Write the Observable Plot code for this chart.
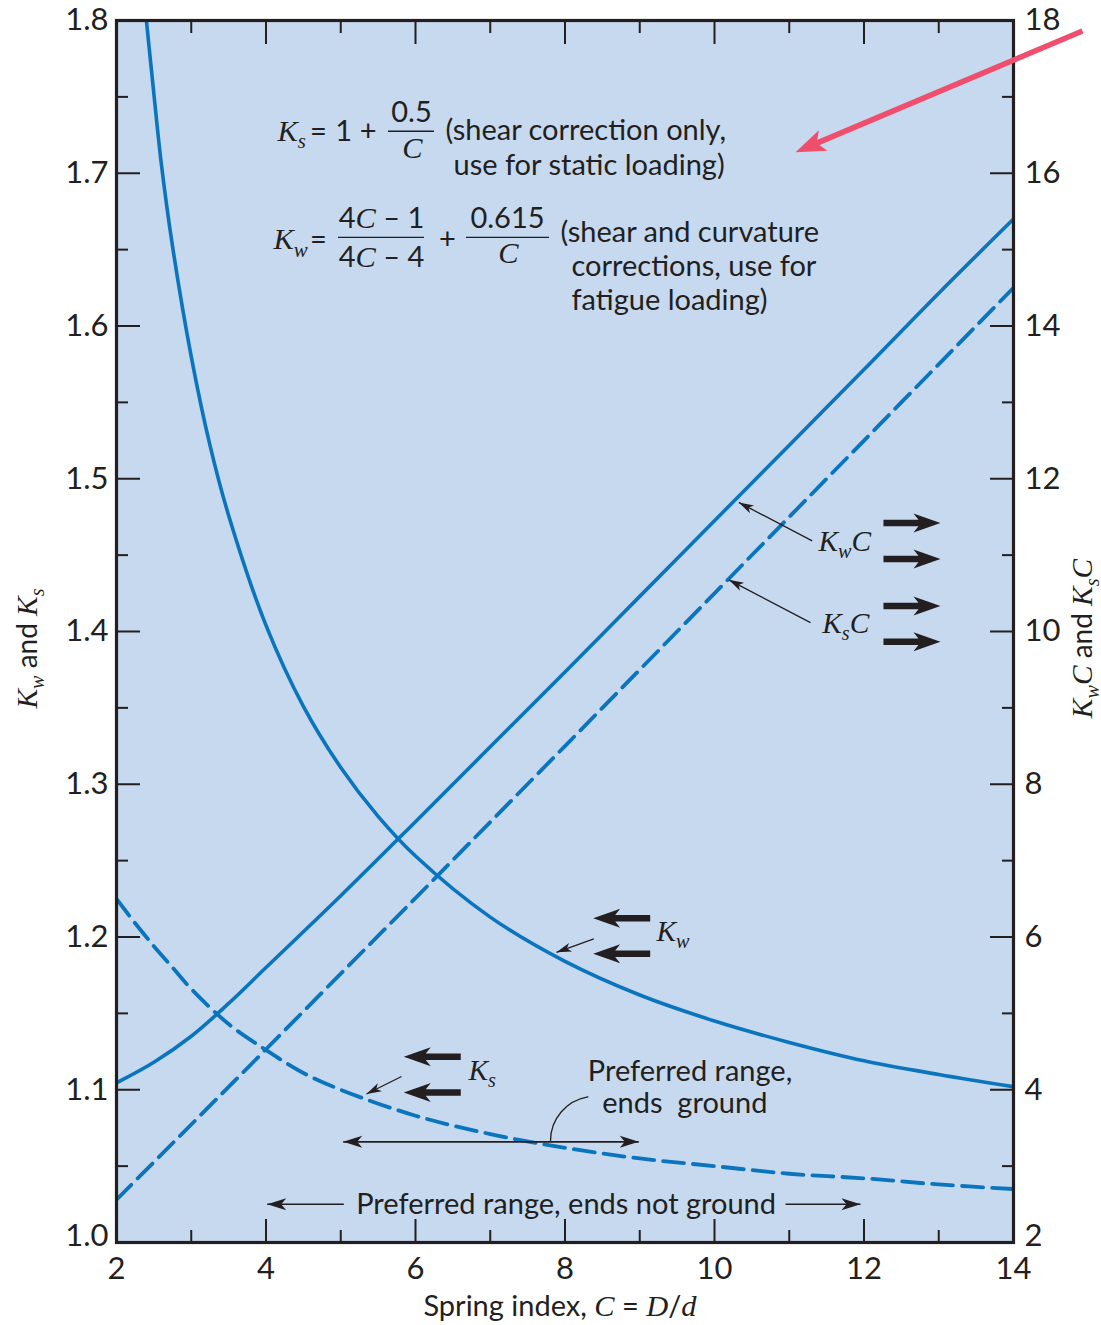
<!DOCTYPE html>
<html>
<head>
<meta charset="utf-8">
<script src="https://cdn.jsdelivr.net/npm/d3@7"></script>
<script src="https://cdn.jsdelivr.net/npm/@observablehq/plot@0.6"></script>
<style>
  html, body { margin: 0; padding: 0; background: #ffffff; }
  svg { display: block; }
</style>
</head>
<body>
<script>
// ---------------- data ----------------
// Kw (left axis) versus spring index C
const kwIndex  = [2.40, 2.5, 2.6, 2.75, 3, 3.25, 3.5, 4, 4.5, 5, 5.5, 6, 7, 8, 9, 10, 11, 12, 13, 14];
const kwValues = [1.800, 1.752, 1.706, 1.652, 1.580, 1.522, 1.476, 1.404, 1.351, 1.311, 1.279, 1.253, 1.213, 1.184, 1.162, 1.145, 1.131, 1.119, 1.110, 1.102];
// Ks (left axis)
const ksIndex  = [2, 2.25, 2.5, 2.75, 3, 3.5, 4, 4.5, 5, 6, 7, 8, 9, 10, 11, 12, 13, 14];
const ksValues = [1.225, 1.209, 1.194, 1.180, 1.166, 1.143, 1.126, 1.111, 1.100, 1.083, 1.071, 1.062, 1.055, 1.050, 1.045, 1.042, 1.038, 1.035];
// KwC (right axis)
const kwcIndex  = [2, 2.5, 3, 3.5, 4, 5, 6, 7, 8, 9, 10, 11, 12, 13, 14];
const kwcValues = [4.09, 4.36, 4.70, 5.13, 5.60, 6.54, 7.51, 8.49, 9.47, 10.46, 11.45, 12.44, 13.43, 14.43, 15.40];
// KsC (right axis)
const kscIndex  = [2, 4, 6, 8, 10, 12, 14];
const kscValues = [2.56, 4.53, 6.51, 8.50, 10.50, 12.50, 14.50];

// tick labels
const xTickLabels  = [2, 4, 6, 8, 10, 12, 14];
const xMinorTicks  = [3, 5, 7, 9, 11, 13];
const yTickLabels  = [1.0, 1.1, 1.2, 1.3, 1.4, 1.5, 1.6, 1.7, 1.8];
const yMinorTicks  = [1.05, 1.15, 1.25, 1.35, 1.45, 1.55, 1.65, 1.75];
const y2TickLabels = [2, 4, 6, 8, 10, 12, 14, 16, 18];

// ---------------- styling ----------------
const ink = "#231f20", blue = "#0a74bd", bg = "#c6d9ef", pink = "#ef4f6d";
const sans = "Lato, 'Open Sans', sans-serif";
const serif = "'Liberation Serif', 'DejaVu Serif', serif";

// right axis (KwC, KsC: 2..18) shares the left scale (1.0..1.8)
const toLeft = v => 1 + (v - 2) / 20;
const fromLeft = k => Math.round(2 + (k - 1) * 20);

const kwData  = d3.zip(kwIndex, kwValues).map(([C, K]) => ({C, K}));
const ksData  = d3.zip(ksIndex, ksValues).map(([C, K]) => ({C, K}));
const kwcData = d3.zip(kwcIndex, kwcValues).map(([C, v]) => ({C, K: toLeft(v)}));
const kscData = d3.zip(kscIndex, kscValues).map(([C, v]) => ({C, K: toLeft(v)}));

const innerX = xTickLabels.slice(1, -1);
const innerY = yTickLabels.slice(1, -1);
const rightTicks = y2TickLabels.map(toLeft);
const rightInner = rightTicks.slice(1, -1);
const rightMinor = yMinorTicks;

// ---------------- annotations (in data units) ----------------
const formulaStart = [
  {C: 4.154, K: 1.7210, t: "[K]{s}"},
  {C: 6.401, K: 1.7216, t: "(shear correction only,"},
  {C: 6.508, K: 1.6990, t: "use for static loading)"},
  {C: 4.100, K: 1.6502, t: "[K]{w}"},
  {C: 7.940, K: 1.6548, t: "(shear and curvature"},
  {C: 8.087, K: 1.6325, t: "corrections, use for"},
  {C: 8.087, K: 1.6108, t: "fatigue loading)"}
];
const formulaMiddle = [
  {C: 4.702, K: 1.7210, t: "="},
  {C: 5.040, K: 1.7210, t: "1"},
  {C: 5.365, K: 1.7210, t: "+"},
  {C: 5.946, K: 1.7334, t: "0.5"},
  {C: 5.960, K: 1.7098, t: "[C]"},
  {C: 4.702, K: 1.6502, t: "="},
  {C: 5.545, K: 1.6639, t: "4[C] – 1"},
  {C: 5.545, K: 1.6384, t: "4[C] – 4"},
  {C: 6.428, K: 1.6502, t: "+"},
  {C: 7.231, K: 1.6639, t: "0.615"},
  {C: 7.244, K: 1.6410, t: "[C]"}
];
const fractionBars = [
  {K: 1.7275, C1: 5.639, C2: 6.254},
  {K: 1.6580, C1: 4.970, C2: 6.120},
  {K: 1.6580, C1: 6.682, C2: 7.793}
];
const curveLabels = [
  {C: 11.391, K: 1.4530, t: "[K]{w}[C]"},
  {C: 11.441, K: 1.3988, t: "[K]{s}[C]"},
  {C: 9.224, K: 1.1977, t: "[K]{w}"},
  {C: 6.709, K: 1.1066, t: "[K]{s}"}
];
const noteText = [
  {C: 8.305, K: 1.1059, t: "Preferred range,"},
  {C: 8.498, K: 1.0851, t: "ends\u00a0\u00a0ground"},
  {C: 5.207, K: 1.0185, t: "Preferred range, ends not ground"}
];
const blockArrows = [
  {C: 13.023, K: 1.4710, rot: 0}, {C: 13.023, K: 1.4475, rot: 0},
  {C: 13.023, K: 1.4167, rot: 0}, {C: 13.023, K: 1.3933, rot: 0},
  {C: 8.377, K: 1.2123, rot: 180}, {C: 8.377, K: 1.1890, rot: 180},
  {C: 5.843, K: 1.1216, rot: 180}, {C: 5.843, K: 1.0982, rot: 180}
];
const leaders = [
  {x1: 11.307, y1: 1.4593, x2: 10.325, y2: 1.4845, rot: -152.4},
  {x1: 11.284, y1: 1.4058, x2: 10.191, y2: 1.4338, rot: -152.4},
  {x1: 8.385, y1: 1.1988, x2: 7.886, y2: 1.1900, rot: 160.2},
  {x1: 5.813, y1: 1.1087, x2: 5.344, y2: 1.0972, rot: 153.3}
];
const rangeLines = [
  {x1: 5.033, x2: 8.987, y1: 1.0659, y2: 1.0659},
  {x1: 5.041, x2: 4.016, y1: 1.0250, y2: 1.0250},
  {x1: 10.950, x2: 11.953, y1: 1.0250, y2: 1.0250}
];
const rangeHeads = [
  {C: 5.033, K: 1.0659, rot: 180}, {C: 8.987, K: 1.0659, rot: 0},
  {C: 4.016, K: 1.0250, rot: 180}, {C: 11.953, K: 1.0250, rot: 0}
];
const curvedLeader = [{x1: 8.305, y1: 1.0954, x2: 7.806, y2: 1.0666}];
const pinkShaft = [{x1: 14.923, y1: 1.7931, x2: 11.330, y2: 1.7189}];
const pinkHead = [{C: 11.084, K: 1.7138, rot: 157.1}];

// ---------------- custom arrowhead symbols (tip at origin, pointing right) ----------------
const poly = pts => ({draw(ctx) { ctx.moveTo(pts[0][0], pts[0][1]); for (const p of pts.slice(1)) ctx.lineTo(p[0], p[1]); ctx.closePath(); }});
const blockSym = poly([[0,0],[-27,-9.5],[-22,-3.2],[-57,-3.2],[-57,3.2],[-22,3.2],[-27,9.5]]);
const thinSym  = poly([[0,0],[-15,-4.5],[-11,0],[-15,4.5]]);
const rangeSym = poly([[0,0],[-19,-6],[-14,0],[-19,6]]);
const pinkSym  = poly([[0,0],[-30,-11],[-23,0],[-30,11]]);

const tickStyle = {stroke: ink, strokeWidth: 2, fill: "none", label: null};
const txt = {x: "C", y: "K", text: "t", lineAnchor: "bottom", fill: ink};
const labelStyle = {tickSize: 0, fontSize: 31, label: null};

const chart = Plot.plot({
  width: 1101,
  height: 1325,
  marginLeft: 116,
  marginRight: 88,
  marginTop: 20,
  marginBottom: 83,
  x: {domain: [2, 14]},
  y: {domain: [1, 1.8]},
  style: {fontFamily: sans, fontSize: "30px", color: ink, background: "#ffffff", overflow: "visible"},
  marks: [
    Plot.frame({fill: bg}),
    // curves
    Plot.line(kwData, {x: "C", y: "K", stroke: blue, strokeWidth: 3.6, curve: "catmull-rom", clip: true}),
    Plot.line(ksData, {x: "C", y: "K", stroke: blue, strokeWidth: 3.8, strokeDasharray: "21,9", curve: "catmull-rom", clip: true}),
    Plot.line(kwcData, {x: "C", y: "K", stroke: blue, strokeWidth: 3.6, curve: "catmull-rom", clip: true}),
    Plot.line(kscData, {x: "C", y: "K", stroke: blue, strokeWidth: 3.8, strokeDasharray: "21,9", curve: "linear", clip: true}),
    // formulas
    Plot.ruleY(fractionBars, {y: "K", x1: "C1", x2: "C2", stroke: ink, strokeWidth: 1.4}),
    Plot.text(formulaStart, {...txt, textAnchor: "start", fontSize: 29}),
    Plot.text(formulaMiddle, {...txt, textAnchor: "middle", fontSize: 29}),
    // curve labels & arrows
    Plot.text(curveLabels, {...txt, textAnchor: "start", fontSize: 28}),
    Plot.dot(blockArrows, {x: "C", y: "K", rotate: "rot", symbol: blockSym, fill: ink, stroke: "none", r: 10}),
    Plot.link(leaders, {x1: "x1", y1: "y1", x2: "x2", y2: "y2", stroke: ink, strokeWidth: 1.3}),
    Plot.dot(leaders, {x: "x2", y: "y2", rotate: "rot", symbol: thinSym, fill: ink, stroke: "none", r: 6}),
    // preferred ranges
    Plot.text(noteText, {...txt, textAnchor: "start", fontSize: 29}),
    Plot.link(rangeLines, {x1: "x1", y1: "y1", x2: "x2", y2: "y2", stroke: ink, strokeWidth: 1.6}),
    Plot.dot(rangeHeads, {x: "C", y: "K", rotate: "rot", symbol: rangeSym, fill: ink, stroke: "none", r: 6}),
    Plot.arrow(curvedLeader, {x1: "x1", y1: "y1", x2: "x2", y2: "y2", bend: -40, headLength: 0, stroke: ink, strokeWidth: 1.3}),
    // axes: labels
    Plot.axisX(xTickLabels, {anchor: "bottom", tickPadding: 14, ...labelStyle}),
    Plot.axisY(yTickLabels.slice(1), {anchor: "left", tickPadding: 8, tickFormat: d3.format(".1f"), ...labelStyle}),
    Plot.axisY(yTickLabels.slice(0, 1), {anchor: "left", tickPadding: 8, dy: -6, tickFormat: d3.format(".1f"), ...labelStyle}),
    Plot.axisY(rightTicks.slice(1), {anchor: "right", tickPadding: 11, tickFormat: fromLeft, ...labelStyle}),
    Plot.axisY(rightTicks.slice(0, 1), {anchor: "right", tickPadding: 11, dy: -6, tickFormat: fromLeft, ...labelStyle}),
    // axes: inward ticks
    Plot.axisX(innerX, {anchor: "bottom", tickSize: 23, dy: -23, ...tickStyle}),
    Plot.axisX(xMinorTicks, {anchor: "bottom", tickSize: 12, dy: -12, ...tickStyle}),
    Plot.axisX(innerX, {anchor: "top", tickSize: 23, dy: 23, ...tickStyle}),
    Plot.axisX(xMinorTicks, {anchor: "top", tickSize: 12, dy: 12, ...tickStyle}),
    Plot.axisY(innerY, {anchor: "left", tickSize: 24, dx: 24, ...tickStyle}),
    Plot.axisY(yMinorTicks, {anchor: "left", tickSize: 12, dx: 12, ...tickStyle}),
    Plot.axisY(rightInner, {anchor: "right", tickSize: 24, dx: -24, ...tickStyle}),
    Plot.axisY(rightMinor, {anchor: "right", tickSize: 12, dx: -12, ...tickStyle}),
    // axis titles
    Plot.text(["Spring index, [C] = [D]/[d]"], {frameAnchor: "bottom", dy: 73, dx: -5, lineAnchor: "bottom", textAnchor: "middle", fontSize: 29, fill: ink}),
    Plot.text(["[K]{w} and [K]{s}"], {frameAnchor: "left", dx: -88, dy: 17, rotate: -90, textAnchor: "middle", lineAnchor: "middle", fontSize: 28, fill: ink}),
    Plot.text(["[K]{w}[C] and [K]{s}[C]"], {frameAnchor: "right", dx: 70, dy: 7, rotate: -90, textAnchor: "middle", lineAnchor: "middle", fontSize: 28, fill: ink}),
    // frame
    Plot.frame({stroke: ink, strokeWidth: 3.2}),
    // pink pointer
    Plot.link(pinkShaft, {x1: "x1", y1: "y1", x2: "x2", y2: "y2", stroke: pink, strokeWidth: 5.5}),
    Plot.dot(pinkHead, {x: "C", y: "K", rotate: "rot", symbol: pinkSym, fill: pink, stroke: "none", r: 10})
  ]
});

document.body.appendChild(chart);

// rich text: [x] = italic serif, {x} = italic serif subscript
function richify(root) {
  const NS = "http://www.w3.org/2000/svg";
  root.querySelectorAll("text").forEach(t => {
    const s = t.textContent;
    if (!/[\[{]/.test(s)) return;
    while (t.firstChild) t.removeChild(t.firstChild);
    const re = /\[([^\]]*)\]|\{([^}]*)\}|([^\[{]+)/g;
    let m, shift = 0;
    while ((m = re.exec(s))) {
      const ts = document.createElementNS(NS, "tspan");
      if (m[1] !== undefined) {
        const fs = 1.05;
        ts.setAttribute("font-family", serif);
        ts.setAttribute("font-style", "italic");
        ts.setAttribute("font-size", fs + "em");
        if (shift) { ts.setAttribute("dy", (-shift / fs) + "em"); shift = 0; }
        ts.textContent = m[1];
      } else if (m[2] !== undefined) {
        const fs = 0.72, down = 0.25;
        ts.setAttribute("font-family", serif);
        ts.setAttribute("font-style", "italic");
        ts.setAttribute("font-size", fs + "em");
        ts.setAttribute("dy", ((down - shift) / fs) + "em");
        shift = down;
        ts.textContent = m[2];
      } else {
        if (shift) { ts.setAttribute("dy", (-shift) + "em"); shift = 0; }
        ts.textContent = m[3];
      }
      t.appendChild(ts);
    }
  });
}
richify(chart);
</script>
</body>
</html>
